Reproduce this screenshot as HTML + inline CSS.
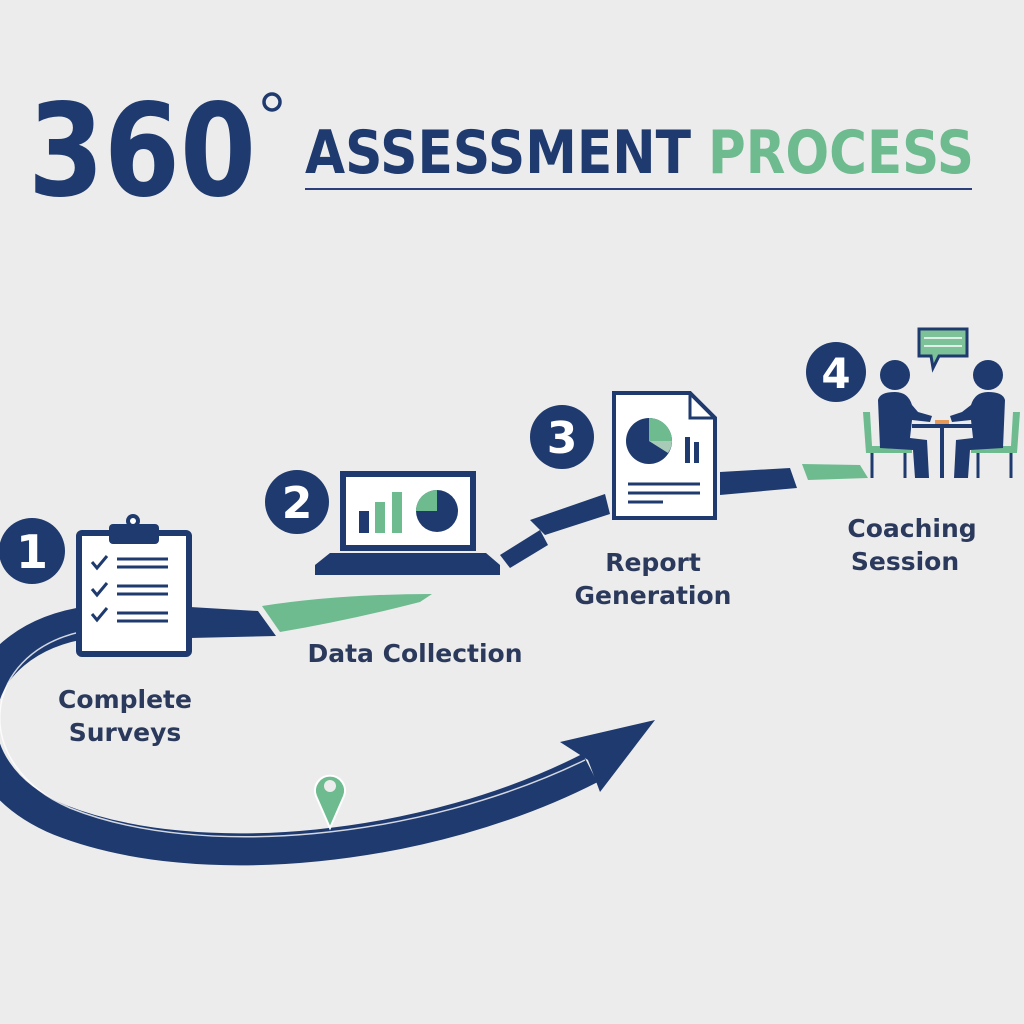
<!DOCTYPE html>
<html><head><meta charset="utf-8"><style>
html,body{margin:0;padding:0;background:#ececec}
svg{display:block}
text{font-family:"DejaVu Sans","Liberation Sans",sans-serif;font-weight:bold}
</style></head><body>
<svg width="1024" height="1024" viewBox="0 0 1024 1024" xmlns="http://www.w3.org/2000/svg">
<rect width="1024" height="1024" fill="#ececec"/>
<!-- Title -->
<text x="28" y="195" font-size="128" fill="#1f3a6e" textLength="228" lengthAdjust="spacingAndGlyphs">360</text>
<circle cx="272" cy="102" r="8" fill="none" stroke="#1f3a6e" stroke-width="3.5"/>
<text x="305" y="173" font-size="60" fill="#1f3a6e" textLength="386" lengthAdjust="spacingAndGlyphs">ASSESSMENT</text>
<text x="708" y="173" font-size="60" fill="#6dbb8f" textLength="266" lengthAdjust="spacingAndGlyphs">PROCESS</text>
<line x1="305" y1="189" x2="972" y2="189" stroke="#2d3f7a" stroke-width="2"/>

<!-- Big road arc -->
<path d="M 90 622 C -40 640, -60 770, 60 820 C 200 875, 430 850, 590 768" fill="none" stroke="#1f3a6e" stroke-width="32"/>
<path d="M 80 632 C -20 655, -30 765, 70 808 C 200 860, 420 840, 585 760" fill="none" stroke="#ffffff" stroke-width="1.5" opacity="0.8"/>
<polygon points="655,720 600,792 588,760 560,742" fill="#1f3a6e"/>
<!-- pin -->
<path d="M330 828 L316 796 A15 15 0 1 1 344 796 Z" fill="#6dbb8f" stroke="#fff" stroke-width="2"/>
<circle cx="330" cy="786" r="6" fill="#ececec"/>

<!-- upper path segments -->
<polygon points="190,607 258,611 276,636 190,638" fill="#1f3a6e"/>
<path d="M262 606 Q340 594 432 594 L420 602 Q350 620 280 632 Z" fill="#6dbb8f"/>
<polygon points="500,555 540,530 548,545 510,568" fill="#1f3a6e"/>
<polygon points="530,520 605,494 610,514 545,535" fill="#1f3a6e"/>
<polygon points="720,472 790,468 797,488 720,495" fill="#1f3a6e"/>
<polygon points="802,464 860,465 868,478 808,480" fill="#6dbb8f"/>

<!-- Step 1 -->
<circle cx="32" cy="551" r="33" fill="#1f3a6e"/>
<text x="32" y="568" font-size="46" fill="#fff" text-anchor="middle">1</text>
<rect x="79" y="533" width="110" height="121" rx="3" fill="#fff" stroke="#1f3a6e" stroke-width="6"/>
<rect x="109" y="524" width="50" height="20" rx="4" fill="#1f3a6e"/>
<circle cx="133" cy="521" r="7" fill="#1f3a6e"/><circle cx="133" cy="521" r="3" fill="#fff"/>
<g stroke="#1f3a6e" stroke-width="3" fill="none">
<path d="M92 562 l5 6 l10 -12"/><path d="M92 589 l5 6 l10 -12"/><path d="M92 614 l5 6 l10 -12"/>
<line x1="117" y1="559" x2="168" y2="559"/><line x1="117" y1="567" x2="168" y2="567"/>
<line x1="117" y1="586" x2="168" y2="586"/><line x1="117" y1="594" x2="168" y2="594"/>
<line x1="117" y1="613" x2="168" y2="613"/><line x1="117" y1="621" x2="168" y2="621"/>
</g>
<text x="125" y="708" font-size="25" fill="#2b3a5c" text-anchor="middle" style="font-weight:600">Complete</text>
<text x="125" y="741" font-size="25" fill="#2b3a5c" text-anchor="middle" style="font-weight:600">Surveys</text>

<!-- Step 2 -->
<circle cx="297" cy="502" r="32" fill="#1f3a6e"/>
<text x="297" y="518" font-size="44" fill="#fff" text-anchor="middle">2</text>
<rect x="343" y="474" width="130" height="74" fill="#fff" stroke="#1f3a6e" stroke-width="6"/>
<rect x="359" y="511" width="10" height="22" fill="#1f3a6e"/>
<rect x="375" y="502" width="10" height="31" fill="#6dbb8f"/>
<rect x="392" y="492" width="10" height="41" fill="#6dbb8f"/>
<circle cx="437" cy="511" r="21" fill="#1f3a6e"/>
<path d="M437 511 L437 490 A21 21 0 0 0 416 511 Z" fill="#6dbb8f"/>
<path d="M330 553 L486 553 L500 565 L500 575 L315 575 L315 565 Z" fill="#1f3a6e"/>
<text x="415" y="662" font-size="25" fill="#2b3a5c" text-anchor="middle" style="font-weight:600">Data Collection</text>

<!-- Step 3 -->
<circle cx="562" cy="437" r="32" fill="#1f3a6e"/>
<text x="562" y="453" font-size="44" fill="#fff" text-anchor="middle">3</text>
<path d="M614 393 L690 393 L715 418 L715 518 L614 518 Z" fill="#fff" stroke="#1f3a6e" stroke-width="4"/>
<path d="M690 393 L690 418 L715 418" fill="none" stroke="#1f3a6e" stroke-width="3"/>
<circle cx="649" cy="441" r="23" fill="#1f3a6e"/>
<path d="M649 441 L649 418 A23 23 0 0 1 672 441 Z" fill="#6dbb8f"/>
<path d="M649 441 L672 441 A23 23 0 0 1 668 453 Z" fill="#a8cbb8"/>
<rect x="685" y="437" width="5" height="26" fill="#1f3a6e"/><rect x="694" y="442" width="5" height="21" fill="#1f3a6e"/>
<line x1="628" y1="484" x2="700" y2="484" stroke="#1f3a6e" stroke-width="3"/>
<line x1="628" y1="493" x2="700" y2="493" stroke="#1f3a6e" stroke-width="3"/>
<line x1="628" y1="502" x2="663" y2="502" stroke="#1f3a6e" stroke-width="3"/>
<text x="653" y="571" font-size="25" fill="#2b3a5c" text-anchor="middle" style="font-weight:600">Report</text>
<text x="653" y="604" font-size="25" fill="#2b3a5c" text-anchor="middle" style="font-weight:600">Generation</text>

<!-- Step 4 -->
<circle cx="836" cy="372" r="30" fill="#1f3a6e"/>
<text x="836" y="388" font-size="42" fill="#fff" text-anchor="middle">4</text>
<path d="M919 329 L967 329 L967 356 L939 356 L933 368 L931 356 L919 356 Z" fill="#7cc197" stroke="#1f3a6e" stroke-width="3"/>
<line x1="924" y1="338" x2="962" y2="338" stroke="#fff" stroke-width="1.5"/>
<line x1="924" y1="346" x2="962" y2="346" stroke="#fff" stroke-width="1.5"/>
<!-- chairs -->
<path d="M863 412 L870 412 L872 446 L912 446 L912 453 L866 453 Z" fill="#6dbb8f"/>
<path d="M1020 412 L1013 412 L1011 446 L971 446 L971 453 L1017 453 Z" fill="#6dbb8f"/>
<g stroke="#1f3a6e" stroke-width="3">
<line x1="872" y1="453" x2="872" y2="478"/><line x1="905" y1="453" x2="905" y2="478"/>
<line x1="1011" y1="453" x2="1011" y2="478"/><line x1="978" y1="453" x2="978" y2="478"/>
<line x1="912" y1="426" x2="972" y2="426" stroke-width="4"/>
<line x1="942" y1="426" x2="942" y2="478" stroke-width="4"/>
</g>
<rect x="935" y="420" width="14" height="4" fill="#e39a5a"/>
<!-- people -->
<circle cx="895" cy="375" r="15" fill="#1f3a6e"/>
<circle cx="988" cy="375" r="15" fill="#1f3a6e"/>
<path d="M878 400 Q880 392 895 392 Q908 392 912 405 L918 412 L932 416 L930 422 L912 420 L910 438 L927 440 L929 478 L915 478 L913 450 L880 448 Z" fill="#1f3a6e"/>
<path d="M1005 400 Q1003 392 988 392 Q975 392 971 405 L962 412 L950 416 L952 422 L971 420 L973 438 L956 440 L954 478 L968 478 L970 450 L1003 448 Z" fill="#1f3a6e"/>
<text x="912" y="537" font-size="25" fill="#2b3a5c" text-anchor="middle" style="font-weight:600">Coaching</text>
<text x="905" y="570" font-size="25" fill="#2b3a5c" text-anchor="middle" style="font-weight:600">Session</text>
</svg>
</body></html>
